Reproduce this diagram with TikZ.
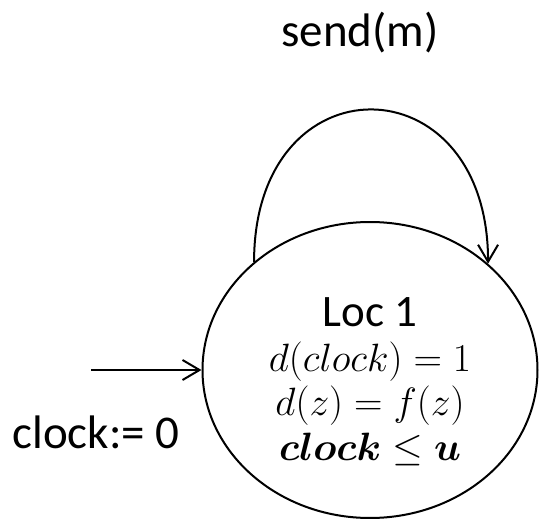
\RequirePackage{fix-cm}
\documentclass[tikz,border=0pt]{standalone}
\usepackage{amsmath}
\usepackage[no-math]{fontspec}
\setmainfont{Carlito}
\usepackage{tikz}
\usetikzlibrary{positioning,arrows.meta,shapes.geometric}

\begin{document}
\begin{tikzpicture}[
  x=1pt, y=-1pt,
  line width=2pt,
  loc/.style={draw, ellipse, minimum width=335pt, minimum height=296pt, inner sep=0pt, align=center, font=\fontsize{39.5}{44.5}\selectfont},
  lbl/.style={font=\fontsize{47}{56}\selectfont, inner sep=0pt, anchor=base},
  arr/.style={-{Straight Barb[length=17pt, width=20pt]}}
]
\useasboundingbox (0,0) rectangle (539,519);
\node[loc] at (370,370) (loc1) {\rule{0pt}{52pt}{\fontsize{45}{44.5}\selectfont Loc 1}\\$d(clock) = 1$\\$d(z) = f(z)$\\$\boldsymbol{clock} \leq \boldsymbol{u}$};
\node[lbl] at (360,47)  (send) {send(m)};
\node[lbl] at (96,448)  (init) {clock:= 0};
\coordinate (start) at (91,370);
\draw[arr] (start) -- (loc1.west);
\draw[arr] (loc1.137) .. controls +(0,-204) and +(0,-204) .. (loc1.42);
\end{tikzpicture}
\end{document}
